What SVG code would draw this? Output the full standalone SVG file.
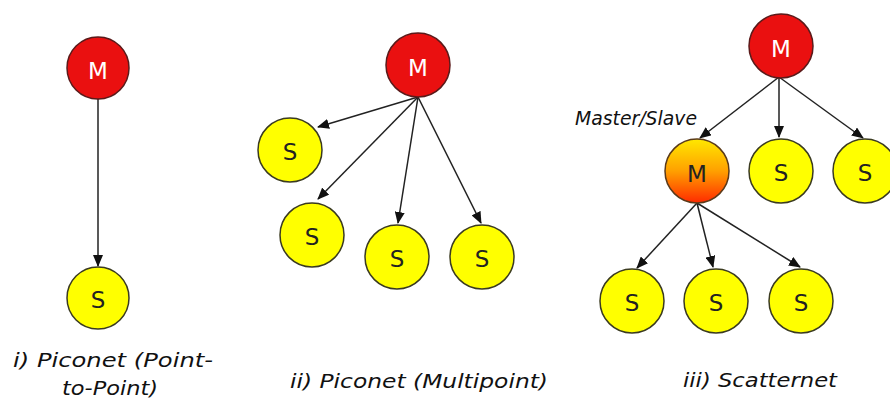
<svg xmlns="http://www.w3.org/2000/svg" width="890" height="401" viewBox="0 0 890 401">
<defs>
<marker id="ah" markerUnits="userSpaceOnUse" markerWidth="12" markerHeight="10" refX="11" refY="5" orient="auto">
<path d="M0,0 L12,5 L0,10 Z" fill="#111"/>
</marker>
<linearGradient id="og" x1="0" y1="0" x2="0" y2="1">
<stop offset="0" stop-color="#ffe800"/>
<stop offset="0.5" stop-color="#ffa000"/>
<stop offset="1" stop-color="#ff2a00"/>
</linearGradient>
</defs>
<style>
.m{fill:#ea1010;stroke:#5a1a1a;stroke-width:1.5}
.s{fill:#ffff00;stroke:#3a3a20;stroke-width:1.5}
.ms{fill:url(#og);stroke:#5a3a1a;stroke-width:1.5}
.tm{font-family:"DejaVu Sans",sans-serif;font-size:23px;fill:#fff;text-anchor:middle}
.ts{font-family:"DejaVu Sans",sans-serif;font-size:23px;fill:#222;text-anchor:middle}
.lbl{font-family:"DejaVu Sans",sans-serif;font-style:italic;font-size:20px;fill:#111}
.c{stroke:#222;stroke-width:1.5;fill:none;marker-end:url(#ah)}
</style>
<rect width="890" height="401" fill="#fff"/>
<g id="connectors">
<line class="c" x1="98" y1="99" x2="98" y2="266"/>
<line class="c" x1="418" y1="97" x2="318" y2="127"/>
<line class="c" x1="418" y1="97" x2="318" y2="199"/>
<line class="c" x1="418" y1="97" x2="398" y2="223"/>
<line class="c" x1="418" y1="97" x2="481" y2="223"/>
<line class="c" x1="779" y1="77" x2="700" y2="138"/>
<line class="c" x1="779" y1="77" x2="779" y2="137"/>
<line class="c" x1="779" y1="77" x2="863" y2="138"/>
<line class="c" x1="697" y1="203" x2="637" y2="268"/>
<line class="c" x1="697" y1="203" x2="713" y2="267"/>
<line class="c" x1="697" y1="203" x2="800" y2="267"/>
</g>
<g id="p1-m"><circle class="m" cx="98" cy="68" r="31"/><text class="tm" x="98" y="79">M</text></g>
<g id="p1-s"><circle class="s" cx="98" cy="298" r="31"/><text class="ts" x="98" y="308">S</text></g>
<g id="p2-m"><circle class="m" cx="418" cy="65" r="32"/><text class="tm" x="418" y="76">M</text></g>
<g id="p2-s1"><circle class="s" cx="290" cy="150" r="32"/><text class="ts" x="290" y="160">S</text></g>
<g id="p2-s2"><circle class="s" cx="312" cy="235" r="32"/><text class="ts" x="312" y="245">S</text></g>
<g id="p2-s3"><circle class="s" cx="397" cy="257" r="32"/><text class="ts" x="397" y="267">S</text></g>
<g id="p2-s4"><circle class="s" cx="482" cy="257" r="32"/><text class="ts" x="482" y="267">S</text></g>
<g id="p3-m"><circle class="m" cx="781" cy="46" r="32"/><text class="tm" x="781" y="57">M</text></g>
<g id="p3-ms"><circle class="ms" cx="697" cy="171" r="32"/><text class="ts" x="697" y="182">M</text></g>
<g id="p3-s1"><circle class="s" cx="781" cy="171" r="32"/><text class="ts" x="781" y="181">S</text></g>
<g id="p3-s2"><circle class="s" cx="865" cy="171" r="32"/><text class="ts" x="865" y="181">S</text></g>
<g id="p3-s3"><circle class="s" cx="632" cy="301" r="32"/><text class="ts" x="632" y="311">S</text></g>
<g id="p3-s4"><circle class="s" cx="716" cy="301" r="32"/><text class="ts" x="716" y="311">S</text></g>
<g id="p3-s5"><circle class="s" cx="801" cy="301" r="32"/><text class="ts" x="801" y="311">S</text></g>
<g id="labels">
<text class="lbl" x="575" y="125" font-size="16" textLength="122" lengthAdjust="spacingAndGlyphs">Master/Slave</text>
<text class="lbl" x="13" y="367" textLength="200" lengthAdjust="spacingAndGlyphs">i) Piconet (Point-</text>
<text class="lbl" x="62" y="395" textLength="96" lengthAdjust="spacingAndGlyphs">to-Point)</text>
<text class="lbl" x="290" y="388" textLength="258" lengthAdjust="spacingAndGlyphs">ii) Piconet (Multipoint)</text>
<text class="lbl" x="683" y="387" textLength="154" lengthAdjust="spacingAndGlyphs">iii) Scatternet</text>
</g>
</svg>
